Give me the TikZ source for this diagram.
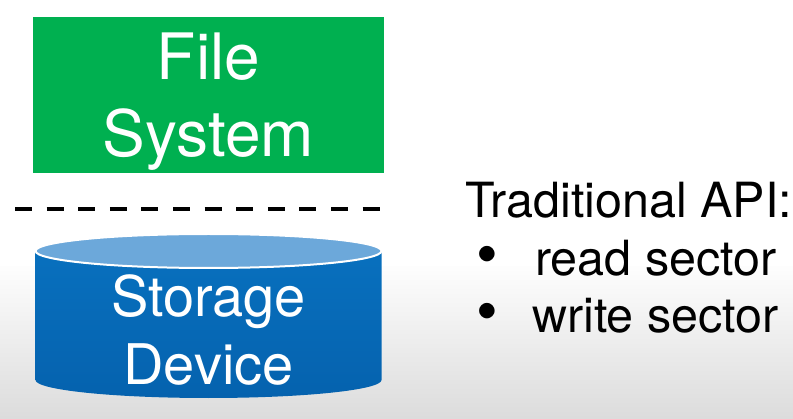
\documentclass[tikz,border=0pt]{standalone}
\usepackage{fontspec}
\setmainfont{TeX Gyre Heros}
\usetikzlibrary{positioning}

\definecolor{fsgreen}{HTML}{00B050}
\definecolor{devblue}{HTML}{0870BE}
\definecolor{devdark}{HTML}{0562AE}
\definecolor{devtop}{HTML}{6CA8DA}
\definecolor{floorgray}{HTML}{DCDCDC}

\begin{document}
\begin{tikzpicture}[
        x=1pt, y=1pt,
        fsbox/.style={rectangle, fill=fsgreen, minimum width=351pt, minimum height=156pt,
            text=white, align=center, text depth=0pt, font=\fontsize{64}{77}\selectfont},
        devlabel/.style={text=white, align=center, font=\fontsize{56}{68}\selectfont},
        apitext/.style={font=\fontsize{48.5}{58}\selectfont, inner sep=0pt},
        dot/.style={font=\fontsize{62}{62}\selectfont, inner sep=0pt, anchor=base},
        cut/.style={line width=4pt, dash pattern=on 17pt off 14.6pt}
    ]
        % background
        \useasboundingbox (0,0) rectangle (793,418);
        \fill[white] (0,0) rectangle (793,418);
        \shade[top color=white!95!floorgray, bottom color=floorgray] (0,0) rectangle (793,151);

        % file system
        \node[fsbox] (fs) at (208.5,323) {File\\System};

        % dashed boundary
        \coordinate (cutL) at (15,209);
        \coordinate (cutR) at (380,209);
        \draw[cut] (cutL) -- (cutR);

        % storage device
        \shade[top color=devblue, bottom color=devdark]
            (35.5,167) -- (35.5,38) arc[start angle=180, end angle=360, x radius=173, y radius=18]
            -- (381.5,167) -- cycle;
        \node[devlabel] (dev) at (208.5,88) {Storage\\Device};
        \fill[devtop, draw=white, line width=2pt] (208.5,167) ellipse[x radius=173, y radius=17];

        % api text
        \node[apitext, anchor=base west] (api) at (465,200) {Traditional API:};
        \node[apitext, anchor=base west] (rd) at (535,142) {read sector};
        \node[apitext, anchor=base west] (wr) at (532,85) {write sector};
        \node[dot] (b1) at (487,142) {•};
        \node[dot] (b2) at (487,85) {•};
    \end{tikzpicture}
\end{document}
